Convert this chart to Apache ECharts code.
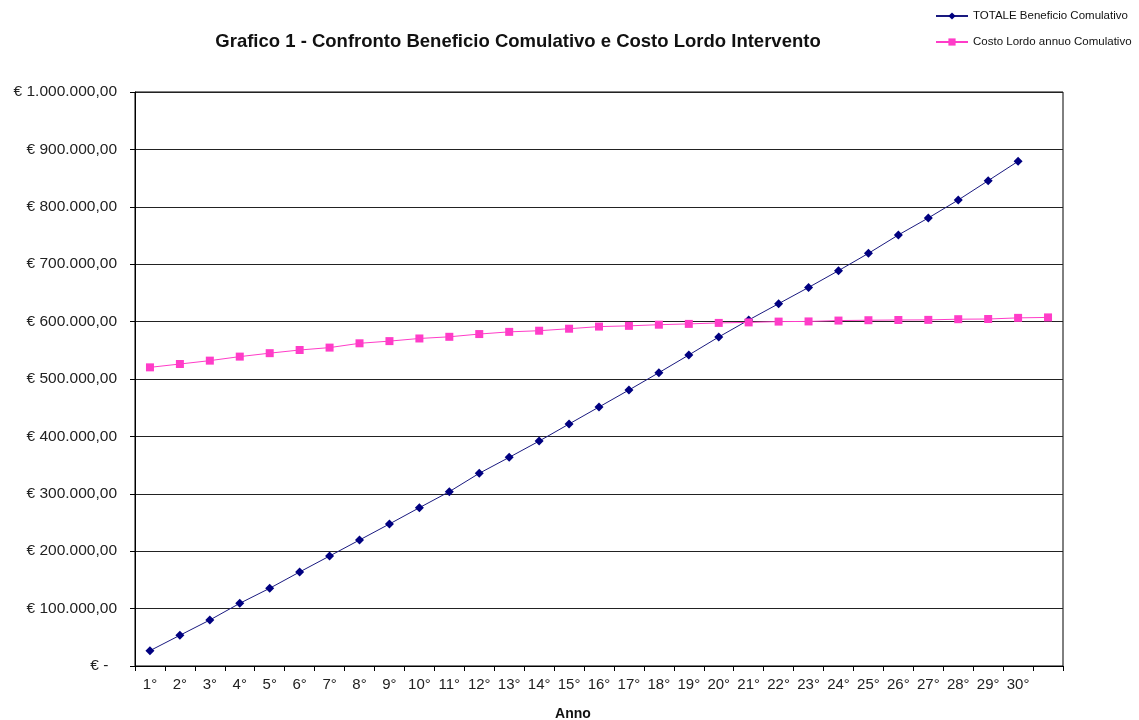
<!DOCTYPE html>
<html>
<head>
<meta charset="utf-8">
<script src="https://cdn.jsdelivr.net/npm/echarts@6/dist/echarts.min.js"></script>
<style>
  html, body { margin: 0; padding: 0; background: #fff; }
  #chart { width: 1139px; height: 720px; }
</style>
</head>
<body>
<div id="chart"></div>
<script>
// Anni (31 categories on the axis, the last one has no label)
const anni = ['1°','2°','3°','4°','5°','6°','7°','8°','9°','10°',
  '11°','12°','13°','14°','15°','16°','17°','18°','19°','20°',
  '21°','22°','23°','24°','25°','26°','27°','28°','29°','30°',''];

// TOTALE Beneficio Comulativo (€)
const beneficioCumulativo = [
  26700, 53500, 80100, 109200, 135400, 163800, 191600, 219500, 247400, 275800,
  303700, 335700, 363500, 391800, 421600, 451200, 480800, 511000, 541800, 573200,
  602800, 631200, 659500, 688700, 718900, 750900, 780500, 811800, 845500, 879300
];

// Costo Lordo annuo Comulativo (€)
const costoLordoCumulativo = [
  520300, 526100, 532000, 539000, 545000, 550500, 554700, 562200, 566000, 570600,
  573500, 578300, 582100, 584100, 587600, 591300, 592600, 594600, 596000, 597700,
  598600, 600000, 600300, 601800, 602400, 602800, 603000, 604200, 604500, 606500,
  607300
];

const yTicks = { min: 0, max: 1000000, step: 100000 };

function euro(v) {
  if (v === 0) return '€ -  ';
  const s = Math.round(v).toString().replace(/\B(?=(\d{3})+(?!\d))/g, '.');
  return '€ ' + s + ',00';
}

const FONT = '"Liberation Sans", Arial, sans-serif';
const chart = echarts.init(document.getElementById('chart'), null, { renderer: 'canvas' });

chart.setOption({
  backgroundColor: '#ffffff',
  animation: false,
  title: [
    {
      text: 'Grafico 1 - Confronto Beneficio Comulativo e Costo Lordo Intervento',
      left: 513, top: 27, textAlign: 'center',
      textStyle: { fontFamily: FONT, fontSize: 18.5, fontWeight: 'bold', color: '#111' }
    },
    {
      text: 'Anno',
      left: 568, top: 702, textAlign: 'center',
      textStyle: { fontFamily: FONT, fontSize: 14, fontWeight: 'bold', color: '#111' }
    }
  ],
  legend: {
    orient: 'vertical',
    left: 930, top: 5,
    itemWidth: 32, itemHeight: 9, itemGap: 14,
    textStyle: { fontFamily: FONT, fontSize: 11.5, color: '#111' },
    data: ['TOTALE Beneficio Comulativo', 'Costo Lordo annuo Comulativo']
  },
  grid: {
    left: 135, right: 76, top: 92, bottom: 54,
    show: true, borderColor: '#000', borderWidth: 1
  },
  xAxis: {
    type: 'category',
    data: anni,
    boundaryGap: true,
    axisLine: { lineStyle: { color: '#000', width: 1 } },
    axisTick: { show: true, interval: 0, length: 5, lineStyle: { color: '#000' } },
    axisLabel: { interval: 0, margin: 11, fontFamily: FONT, fontSize: 15, color: '#222' },
    splitLine: { show: false }
  },
  yAxis: {
    type: 'value',
    min: yTicks.min, max: yTicks.max, interval: yTicks.step,
    axisLine: { show: true, lineStyle: { color: '#000', width: 1 } },
    axisTick: { show: true, length: 5, lineStyle: { color: '#000' } },
    axisLabel: { margin: 18, fontFamily: FONT, fontSize: 15.5, color: '#222', formatter: euro },
    splitLine: { show: true, lineStyle: { color: '#222', width: 1 } }
  },
  series: [
    {
      name: 'TOTALE Beneficio Comulativo',
      type: 'line',
      data: beneficioCumulativo,
      symbol: 'diamond', symbolSize: 9,
      itemStyle: { color: '#000080' },
      lineStyle: { color: '#1a1a80', width: 1 }
    },
    {
      name: 'Costo Lordo annuo Comulativo',
      type: 'line',
      data: costoLordoCumulativo,
      symbol: 'rect', symbolSize: 8,
      itemStyle: { color: '#FF3CC8' },
      lineStyle: { color: '#FF3CC8', width: 1 }
    }
  ]
});
</script>
</body>
</html>
